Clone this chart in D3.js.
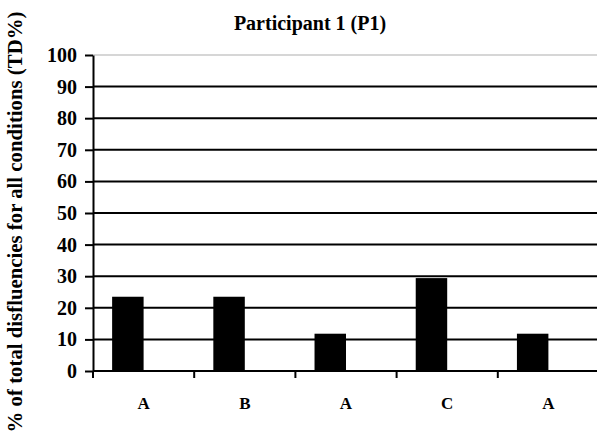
<!DOCTYPE html>
<html>
<head>
<meta charset="utf-8">
<script src="https://cdn.jsdelivr.net/npm/d3@7"></script>
<style>
  body { margin: 0; background: #fff; }
  svg text { font-family: "Liberation Serif", "Times New Roman", serif; font-weight: bold; fill: #000; }
</style>
</head>
<body>
<div id="chart"><svg></svg></div>
<script>
// conditions in session order, TD% for each
const conditions = ["A", "B", "A", "C", "A"];
const tdPercent = [23.5, 23.5, 11.8, 29.4, 11.8];
const yTicks = [0, 10, 20, 30, 40, 50, 60, 70, 80, 90, 100];
const chartTitle = "Participant 1 (P1)";
const yTitle = "% of total disfluencies for all conditions (TD%)";

const width = 597, height = 447;
const plotLeft = 93, plotRight = 599, plotTop = 55, plotBottom = 371;

const svg = d3.select("#chart svg")
  .attr("width", width)
  .attr("height", height);

const xScale = d3.scaleBand().domain(d3.range(conditions.length)).range([plotLeft, plotRight]).padding(0);
const yScale = d3.scaleLinear().domain([0, 100]).range([plotBottom, plotTop]);

const bw = xScale.bandwidth();
const barW = bw * 0.311;

// gridlines
svg.append("g")
  .selectAll("line")
  .data(yTicks.filter(d => d > 0))
  .join("line")
  .attr("x1", plotLeft)
  .attr("x2", width)
  .attr("y1", d => yScale(d))
  .attr("y2", d => yScale(d))
  .attr("stroke", d => d === 100 ? "#c8c8c8" : "#000")
  .attr("stroke-width", d => d === 100 ? 1.5 : 2);

// bars
svg.append("g")
  .selectAll("rect")
  .data(tdPercent)
  .join("rect")
  .attr("x", (d, i) => xScale(i) + (bw - 2 * barW) / 2)
  .attr("width", barW)
  .attr("y", d => yScale(d))
  .attr("height", d => yScale(0) - yScale(d))
  .attr("fill", "#000");

// y axis
const yAxis = d3.axisLeft(yScale).tickValues(yTicks).tickSize(8).tickPadding(8).tickSizeOuter(0);
const gy = svg.append("g").attr("transform", `translate(${plotLeft},0)`).call(yAxis);
gy.select(".domain").attr("stroke-width", 2);
gy.selectAll(".tick line").attr("stroke-width", 2);
gy.selectAll(".tick text").style("font-size", "20px");

// x axis
const xEdges = d3.range(conditions.length + 1).map(i => plotLeft + i * bw);
svg.append("line")
  .attr("x1", plotLeft).attr("x2", width)
  .attr("y1", plotBottom).attr("y2", plotBottom)
  .attr("stroke", "#000").attr("stroke-width", 2);
svg.append("g")
  .selectAll("line")
  .data(xEdges)
  .join("line")
  .attr("x1", d => d).attr("x2", d => d)
  .attr("y1", plotBottom).attr("y2", plotBottom + 7)
  .attr("stroke", "#000").attr("stroke-width", 2);

svg.append("g")
  .selectAll("text")
  .data(conditions)
  .join("text")
  .attr("x", (d, i) => xScale(i) + bw / 2)
  .attr("y", 409)
  .attr("text-anchor", "middle")
  .style("font-size", "17px")
  .text(d => d);

// titles
svg.append("text")
  .attr("x", 310)
  .attr("y", 30)
  .attr("text-anchor", "middle")
  .style("font-size", "20px")
  .text(chartTitle);

svg.append("text")
  .attr("transform", "translate(22,222) rotate(-90)")
  .attr("text-anchor", "middle")
  .style("font-size", "20.8px")
  .text(yTitle);
</script>
</body>
</html>
